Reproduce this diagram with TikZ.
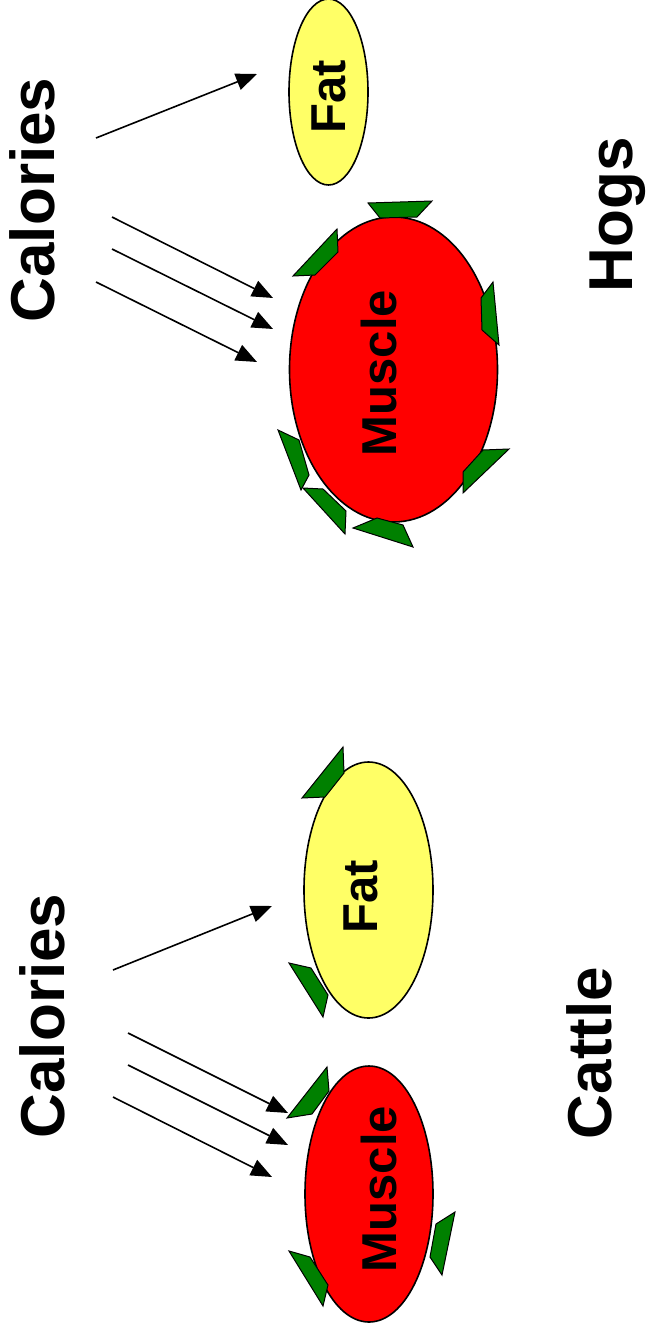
\documentclass[tikz,border=0pt]{standalone}
\usepackage{fontspec}
\setmainfont{Liberation Sans}
\usetikzlibrary{shapes.geometric, arrows.meta}
\definecolor{leafgreen}{RGB}{0,128,0}
\definecolor{fatyellow}{RGB}{255,255,102}
\definecolor{musclered}{RGB}{255,0,0}
\begin{document}
\begin{tikzpicture}[x=1pt,y=-1pt,
  big/.style={font=\fontsize{62}{62}\selectfont\bfseries, rotate=90, anchor=base, inner sep=0},
  small/.style={font=\fontsize{49}{49}\selectfont\bfseries, rotate=90, anchor=base, inner sep=0},
  blob/.style={ellipse, draw=black, line width=1.6pt, inner sep=0},
  leaf/.style={draw=black, fill=leafgreen, line width=1pt, line join=miter},
  arr/.style={line width=1.6pt, -{Triangle[length=21pt,width=17pt]}}]
\useasboundingbox (0,0) rectangle (645,1335);
\fill[white] (0,0) rectangle (645,1335);

% ---------- Hogs ----------
\node[blob, fill=fatyellow, minimum width=79pt, minimum height=186pt] (hfat) at (328.5,92) {};
\node[blob, fill=musclered, minimum width=208pt, minimum height=305pt] (hmus) at (393.5,369.5) {};
% leaves
\draw[leaf] (368,203) -- (432,201) -- (417,217) -- (380,218) -- cycle;
\draw[leaf] (293,276) -- (337,229) -- (338,252) -- (315,275) -- cycle;
\draw[leaf] (481,298) -- (493,282) -- (499,345) -- (482,330) -- cycle;
\draw[leaf] (463,472) -- (483,450) -- (509,449) -- (463,493) -- cycle;
\draw[leaf] (278,430) -- (299,440) -- (309,475) -- (301,490) -- cycle;
\draw[leaf] (303,488) -- (323,489) -- (346,511) -- (345,534) -- cycle;
\draw[leaf] (353,528) -- (377,518) -- (403,525) -- (413,547) -- cycle;

\node[small] (hfatlbl) at (345,97) {Fat};
\node[small] (hmuslbl) at (396,373) {Muscle};
\node[big] (hcal) at (54,200) {Calories};
\node[big] (hogs) at (632,215) {Hogs};

\coordinate (ha1s) at (96,138);  \coordinate (ha1e) at (257,74);
\coordinate (ha2s) at (112,217); \coordinate (ha2e) at (273,298);
\coordinate (ha3s) at (112,249); \coordinate (ha3e) at (273,329);
\coordinate (ha4s) at (96,282);  \coordinate (ha4e) at (257,362);
\draw[arr] (ha1s) -- (ha1e);
\draw[arr] (ha2s) -- (ha2e);
\draw[arr] (ha3s) -- (ha3e);
\draw[arr] (ha4s) -- (ha4e);

% ---------- Cattle ----------
\node[blob, fill=fatyellow, minimum width=129pt, minimum height=256pt] (cfat) at (368.5,890) {};
\node[blob, fill=musclered, minimum width=128pt, minimum height=256pt] (cmus) at (369,1194) {};
\draw[leaf] (302,798) -- (343,747) -- (344,773) -- (325,797) -- cycle;
\draw[leaf] (289,963) -- (311,968) -- (328,995) -- (323,1017) -- cycle;
\draw[leaf] (287,1118) -- (327,1067) -- (329,1091) -- (312,1114) -- cycle;
\draw[leaf] (430,1257) -- (436,1224) -- (455,1212) -- (442,1275) -- cycle;
\draw[leaf] (289,1251) -- (310,1257) -- (328,1285) -- (323,1306) -- cycle;

\node[small] (cfatlbl) at (377,897) {Fat};
\node[small] (cmuslbl) at (396,1189) {Muscle};
\node[big] (ccal) at (64,1016) {Calories};
\node[big] (cattle) at (611,1053) {Cattle};

\coordinate (ca1s) at (113,970);  \coordinate (ca1e) at (272,906);
\coordinate (ca2s) at (128,1033); \coordinate (ca2e) at (288,1113);
\coordinate (ca3s) at (128,1065); \coordinate (ca3e) at (288,1145);
\coordinate (ca4s) at (113,1097); \coordinate (ca4e) at (272,1177);
\draw[arr] (ca1s) -- (ca1e);
\draw[arr] (ca2s) -- (ca2e);
\draw[arr] (ca3s) -- (ca3e);
\draw[arr] (ca4s) -- (ca4e);
\end{tikzpicture}
\end{document}
